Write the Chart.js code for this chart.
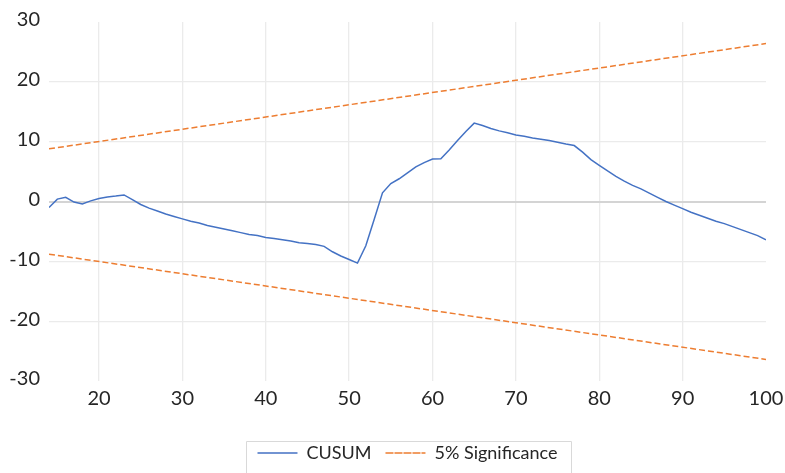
<!DOCTYPE html>
<html>
<head>
<meta charset="utf-8">
<script src="https://cdn.jsdelivr.net/npm/chart.js@4/dist/chart.umd.min.js"></script>
<style>
html,body{margin:0;padding:0;background:#fff;}
#wrap{width:785px;height:473px;position:relative;}
</style>
</head>
<body>
<div id="wrap"><canvas id="c" width="785" height="473"></canvas></div>
<script>
// ---- data ----
const cusumX = [14,15,16,17,18,19,20,21,22,23,24,25,26,27,28,29,30,31,32,33,34,35,36,37,38,39,40,41,42,43,44,45,46,47,48,49,50,51,52,53,54,55,56,57,58,59,60,61,62,63,64,65,66,67,68,69,70,71,72,73,74,75,76,77,78,79,80,81,82,83,84,85,86,87,88,89,90,91,92,93,94,95,96,97,98,99,100];
const cusumY = [-1.0,0.4,0.7,-0.1,-0.4,0.1,0.5,0.75,0.9,1.1,0.3,-0.5,-1.1,-1.6,-2.1,-2.5,-2.9,-3.3,-3.6,-4.0,-4.3,-4.6,-4.9,-5.2,-5.5,-5.7,-6.0,-6.2,-6.4,-6.6,-6.9,-7.0,-7.2,-7.5,-8.4,-9.1,-9.7,-10.3,-7.4,-3.0,1.45,3.0,3.8,4.8,5.8,6.5,7.1,7.15,8.6,10.2,11.7,13.1,12.7,12.2,11.8,11.5,11.1,10.9,10.6,10.4,10.2,9.9,9.6,9.35,8.25,7.0,6.05,5.1,4.2,3.4,2.7,2.1,1.4,0.7,0.0,-0.6,-1.2,-1.8,-2.3,-2.8,-3.3,-3.7,-4.2,-4.7,-5.2,-5.7,-6.4];
const sigX = [14, 100];
const sigUpper = [8.8, 26.4];
const sigLower = [-8.8, -26.4];
const xTicks = [20,30,40,50,60,70,80,90,100];
const yTicks = [-30,-20,-10,0,10,20,30];
const seriesNames = ['CUSUM', '5% Significance'];

const toPts = (xs, ys) => xs.map((x, i) => ({x: x, y: ys[i]}));

const FONT = 'Lato, "Open Sans", sans-serif';
const TEXT = '#262626';

const legendBorder = {
  id: 'legendBorder',
  afterDraw(chart) {
    const lg = chart.legend;
    if (!lg || !lg.legendHitBoxes || !lg.legendHitBoxes.length) return;
    const hb = lg.legendHitBoxes;
    let l = Infinity, r = -Infinity, t = Infinity;
    hb.forEach(b => { l = Math.min(l, b.left); r = Math.max(r, b.left + b.width); t = Math.min(t, b.top); });
    const ctx = chart.ctx;
    ctx.save();
    ctx.strokeStyle = '#D9D9D9';
    ctx.lineWidth = 1;
    ctx.beginPath();
    const L = Math.round(l - 11) + 0.5, R = Math.round(r + 13) + 0.5, T = Math.round(t - 3) + 0.5;
    ctx.moveTo(L, chart.height + 5);
    ctx.lineTo(L, T);
    ctx.lineTo(R, T);
    ctx.lineTo(R, chart.height + 5);
    ctx.stroke();
    ctx.restore();
  }
};

new Chart(document.getElementById('c'), {
  type: 'line',
  data: {
    datasets: [
      { label: seriesNames[0], data: toPts(cusumX, cusumY), borderColor: '#4472C4', backgroundColor: 'rgba(0,0,0,0)', borderWidth: 1.5, pointRadius: 0, tension: 0, fill: false },
      { label: seriesNames[1], data: toPts(sigX, sigUpper), borderColor: '#ED7D31', backgroundColor: 'rgba(0,0,0,0)', borderWidth: 1.5, borderDash: [6, 3], pointRadius: 0, tension: 0, fill: false },
      { label: seriesNames[1] + ' (lower)', data: toPts(sigX, sigLower), borderColor: '#ED7D31', backgroundColor: 'rgba(0,0,0,0)', borderWidth: 1.5, borderDash: [6, 3], pointRadius: 0, tension: 0, fill: false }
    ]
  },
  options: {
    responsive: false,
    animation: false,
    devicePixelRatio: 1,
    layout: { padding: { top: 22, right: 19, bottom: 1, left: 0 } },
    plugins: {
      tooltip: { enabled: false },
      legend: {
        position: 'bottom',
        fullSize: false,
        labels: {
          font: { family: FONT, size: 18 },
          color: TEXT,
          boxWidth: 40,
          boxHeight: 0,
          padding: 14,
          filter: (item) => item.datasetIndex !== 2
        }
      }
    },
    scales: {
      x: {
        type: 'linear',
        min: 14, max: 100,
        afterBuildTicks: (s) => { s.ticks = xTicks.map(v => ({value: v})); },
        afterFit: (s) => { s.height = 49; s.paddingLeft = 0; s.paddingRight = 0; },
        border: { display: false },
        grid: {
          drawTicks: false,
          color: (c) => (c.tick && c.tick.value === 100) ? 'rgba(0,0,0,0)' : '#EBEBEB',
          lineWidth: 1.3
        },
        ticks: { font: { family: FONT, size: 20 }, color: TEXT, padding: 6, maxRotation: 0, autoSkip: false }
      },
      y: {
        min: -30, max: 30,
        afterBuildTicks: (s) => { s.ticks = yTicks.map(v => ({value: v})); },
        afterFit: (s) => { s.width = 49; s.paddingTop = 0; s.paddingBottom = 0; },
        border: { display: false },
        grid: {
          drawTicks: false,
          color: (c) => {
            const v = c.tick ? c.tick.value : null;
            if (v === 0) return '#D4D4D4';
            if (v === 30 || v === -30) return 'rgba(0,0,0,0)';
            return '#EBEBEB';
          },
          lineWidth: (c) => (c.tick && c.tick.value === 0) ? 2 : 1.3
        },
        ticks: { font: { family: FONT, size: 20 }, color: TEXT, padding: 9, labelOffset: -2 }
      }
    }
  },
  plugins: [legendBorder]
});
</script>
</body>
</html>
